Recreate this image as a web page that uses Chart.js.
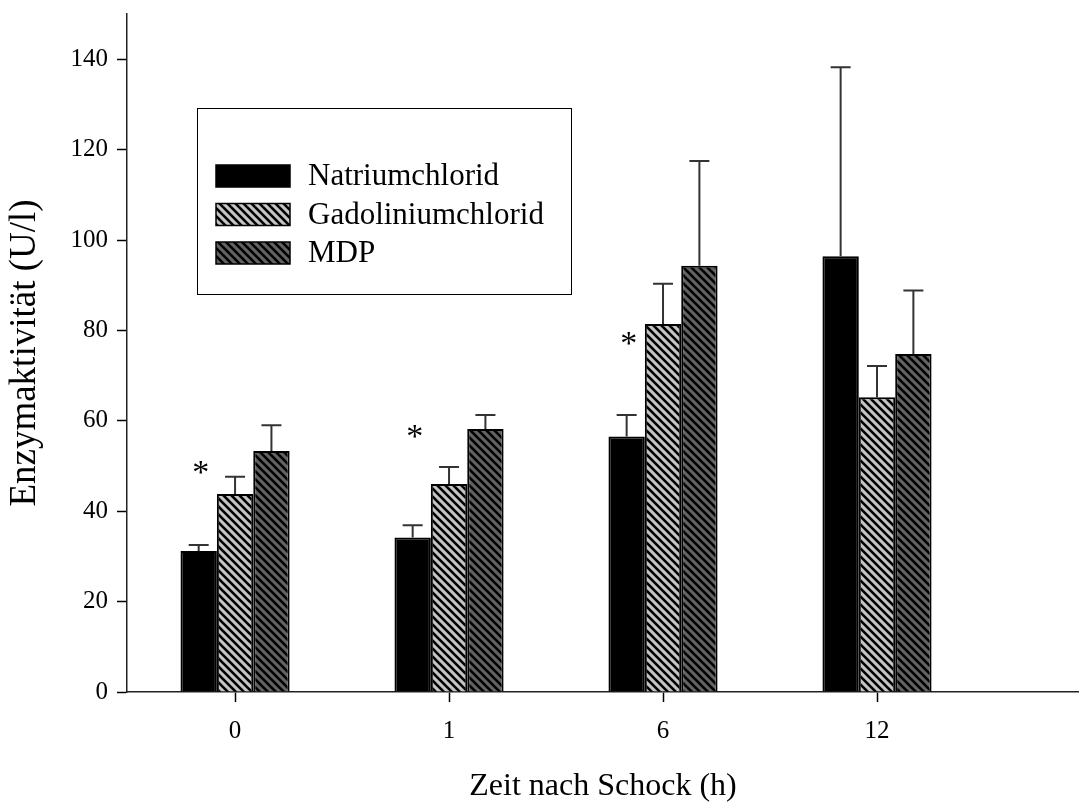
<!DOCTYPE html>
<html>
<head>
<meta charset="utf-8">
<script src="https://cdn.jsdelivr.net/npm/chart.js@4.4.1/dist/chart.umd.min.js"></script>
<style>
  body { margin: 0; background: #fff; }
  #wrap { width: 1079px; height: 803px; }
</style>
</head>
<body>
<div id="wrap"><canvas id="enzymChart"></canvas></div>
<script>
const hours = ["0", "1", "6", "12"];
const yTicks = [0, 20, 40, 60, 80, 100, 120, 140];

const natrium = [31.2, 34.2, 56.5, 96.4];
const gadolinium = [43.8, 46.0, 81.4, 65.2];
const mdp = [53.3, 58.2, 94.3, 74.8];

// upper ends of the error bars
const natriumErr = [32.5, 36.9, 61.3, 138.2];
const gadoliniumErr = [47.6, 49.8, 90.3, 72.1];
const mdpErr = [59.0, 61.3, 117.5, 88.8];

// significance marks over the Natriumchlorid bars
const starGroups = [0, 1, 2];
const starValues = [48.7, 56.6, 77.3];

const FONT = "'Liberation Serif', 'Times New Roman', serif";

function hatch(bg) {
  const c = document.createElement("canvas");
  c.width = c.height = 8;
  const g = c.getContext("2d");
  g.fillStyle = bg;
  g.fillRect(0, 0, 8, 8);
  g.strokeStyle = "#000";
  g.lineWidth = 2.6;
  for (let k = -1; k <= 1; k++) {
    g.beginPath();
    g.moveTo(k * 8 - 1, -1);
    g.lineTo(k * 8 + 9, 9);
    g.stroke();
  }
  return g.createPattern(c, "repeat");
}

const errorBars = {
  id: "errorBars",
  afterDatasetsDraw(chart) {
    const ctx = chart.ctx;
    const y = chart.scales.y;
    const uppers = [natriumErr, gadoliniumErr, mdpErr];
    ctx.save();
    ctx.strokeStyle = "#333";
    ctx.lineWidth = 2;
    chart.data.datasets.forEach((ds, i) => {
      chart.getDatasetMeta(i).data.forEach((bar, j) => {
        const top = y.getPixelForValue(uppers[i][j]);
        ctx.beginPath();
        ctx.moveTo(bar.x, bar.y);
        ctx.lineTo(bar.x, top);
        ctx.moveTo(bar.x - 10, top);
        ctx.lineTo(bar.x + 10, top);
        ctx.stroke();
      });
    });

    // asterisks
    ctx.fillStyle = "#000";
    ctx.font = "34px " + FONT;
    ctx.textAlign = "center";
    ctx.textBaseline = "alphabetic";
    const meta = chart.getDatasetMeta(0);
    starGroups.forEach((g, k) => {
      const bar = meta.data[g];
      ctx.fillText("*", bar.x + 2, y.getPixelForValue(starValues[k]) + 11);
    });
    ctx.restore();
  }
};

const boxLegend = {
  id: "boxLegend",
  afterDraw(chart) {
    const ctx = chart.ctx;
    const area = chart.chartArea;
    const left = area.left + 70;
    const top = area.top + 94;
    ctx.save();
    ctx.strokeStyle = "#000";
    ctx.lineWidth = 1;
    ctx.strokeRect(left + 0.5, top + 0.5, 374, 186);
    ctx.font = "31px " + FONT;
    ctx.textBaseline = "middle";
    ctx.textAlign = "left";
    chart.data.datasets.forEach((ds, i) => {
      const cy = top + 68 + i * 38.5;
      ctx.fillStyle = ds.backgroundColor;
      ctx.fillRect(left + 19, cy - 11, 74, 22);
      ctx.lineWidth = 1.5;
      ctx.strokeRect(left + 19, cy - 11, 74, 22);
      ctx.fillStyle = "#000";
      ctx.fillText(ds.label, left + 111, cy + 1);
    });
    ctx.restore();
  }
};

const toPoints = arr => arr.map((v, i) => ({ x: i, y: v }));

new Chart(document.getElementById("enzymChart"), {
  type: "bar",
  data: {
    datasets: [
      {
        label: "Natriumchlorid",
        data: toPoints(natrium),
        backgroundColor: "#000",
        borderColor: "#000",
        borderWidth: 2
      },
      {
        label: "Gadoliniumchlorid",
        data: toPoints(gadolinium),
        backgroundColor: hatch("#c4c4c4"),
        borderColor: "#000",
        borderWidth: 2
      },
      {
        label: "MDP",
        data: toPoints(mdp),
        backgroundColor: hatch("#626262"),
        borderColor: "#000",
        borderWidth: 2
      }
    ]
  },
  options: {
    responsive: true,
    maintainAspectRatio: false,
    animation: false,
    categoryPercentage: 0.51,
    barPercentage: 1,
    layout: { padding: { top: 14, left: 0, right: 0, bottom: 0 } },
    plugins: {
      legend: { display: false },
      tooltip: { enabled: false }
    },
    scales: {
      x: {
        type: "linear",
        min: -0.505,
        max: 3.944,
        offset: false,
        afterBuildTicks: s => { s.ticks = hours.map((h, i) => ({ value: i })); },
        afterFit: s => {
          s.height = 111;
          s.paddingLeft = 0;
          s.paddingRight = 0;
        },
        ticks: {
          callback: v => hours[v],
          color: "#000",
          font: { family: FONT, size: 25 },
          padding: 14,
          maxRotation: 0,
          autoSkip: false
        },
        grid: { drawOnChartArea: false, offset: false, tickLength: 10, color: "#000", tickWidth: 1.5 },
        border: { color: "#222", width: 1.5 },
        title: {
          display: true,
          text: "Zeit nach Schock (h)",
          color: "#000",
          font: { family: FONT, size: 32, lineHeight: 1 },
          padding: { top: 0, bottom: 0 }
        }
      },
      y: {
        min: 0,
        max: 150,
        afterBuildTicks: s => { s.ticks = yTicks.map(v => ({ value: v })); },
        afterFit: s => {
          s.width = 127;
          s.paddingTop = 0;
          s.paddingBottom = 0;
        },
        ticks: {
          color: "#000",
          font: { family: FONT, size: 25 },
          padding: 9
        },
        grid: { drawOnChartArea: false, tickLength: 10, color: "#000", tickWidth: 1.5 },
        border: { color: "#222", width: 1.5 },
        title: {
          display: true,
          text: "Enzymaktivität (U/l)",
          color: "#000",
          font: { family: FONT, size: 37 },
          padding: { top: 3, bottom: 0 }
        }
      }
    }
  },
  plugins: [errorBars, boxLegend]
});
</script>
</body>
</html>
